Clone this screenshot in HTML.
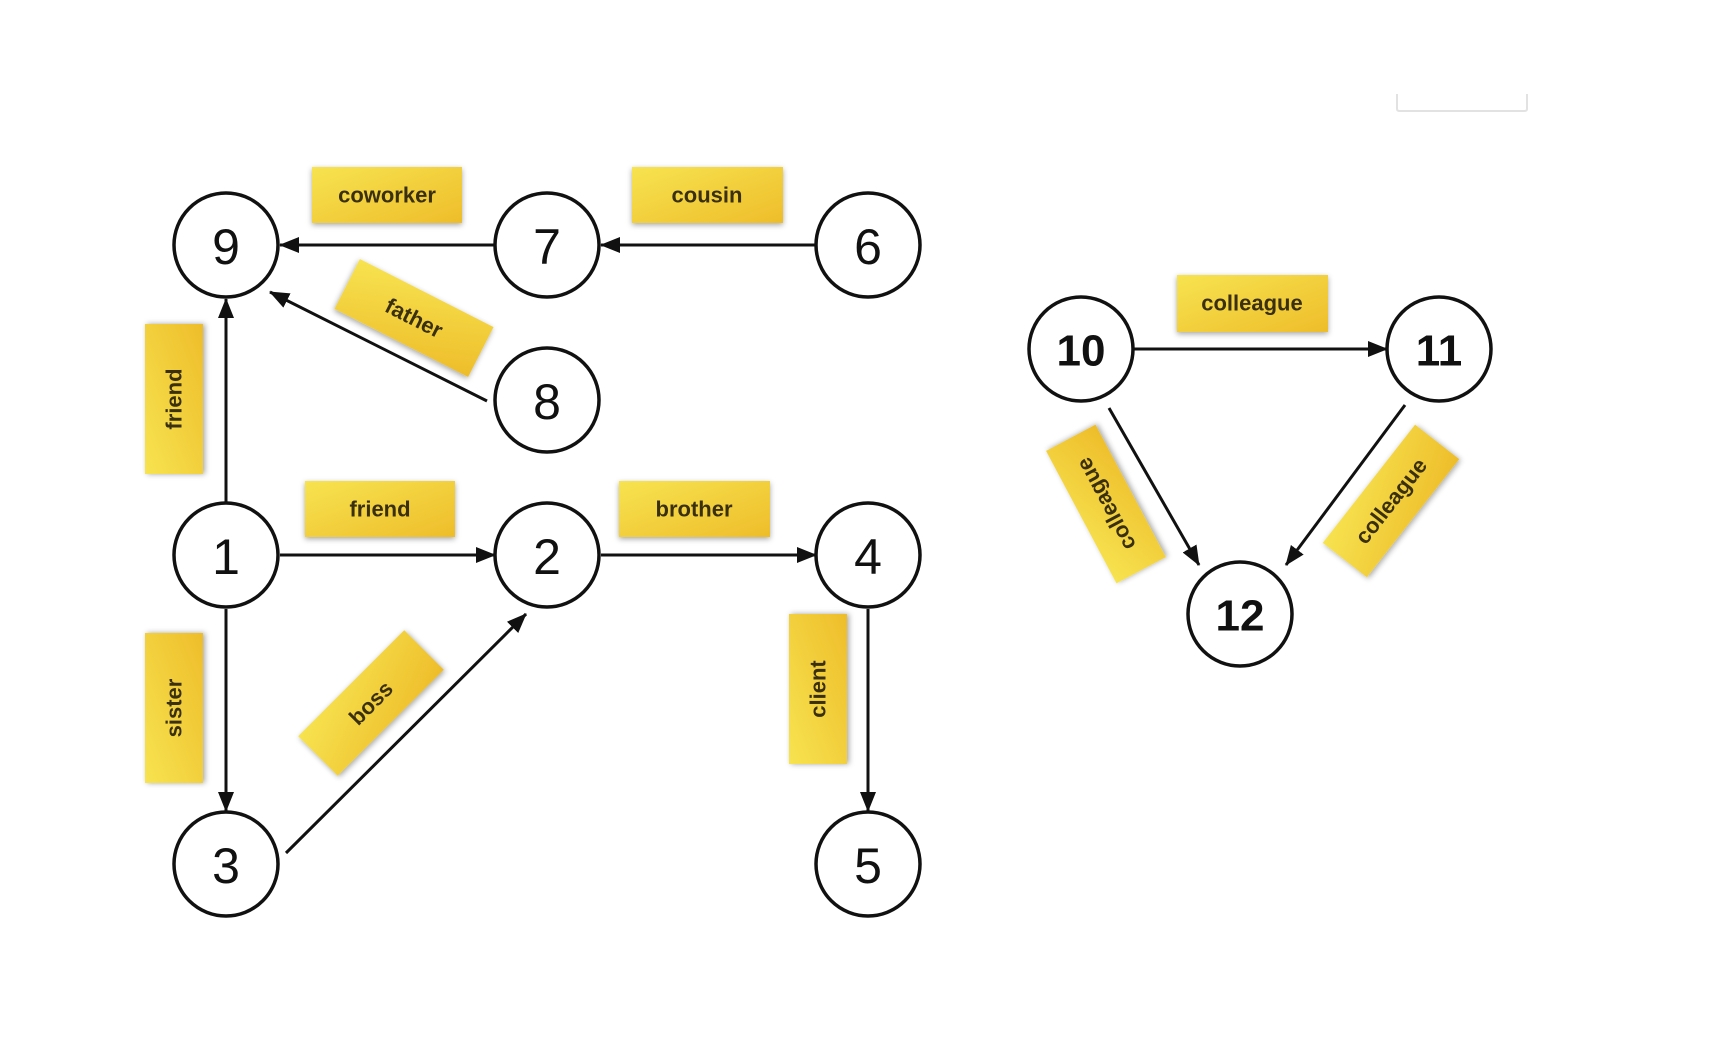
<!DOCTYPE html>
<html><head><meta charset="utf-8"><style>
html,body{margin:0;padding:0;background:#fff;}
svg{display:block;}
.n{fill:#fff;stroke:#111;stroke-width:3.5;}
.d{font-family:"Liberation Sans",sans-serif;font-size:50px;fill:#111;text-anchor:middle;dominant-baseline:central;}
.d2{font-family:"Liberation Sans",sans-serif;font-size:44px;font-weight:bold;fill:#111;text-anchor:middle;dominant-baseline:central;}
.e{stroke:#111;stroke-width:3;fill:none;marker-end:url(#ah);}
.lb{fill:url(#yg);filter:url(#sh);}
.t{font-family:"Liberation Sans",sans-serif;font-size:22px;font-weight:bold;fill:#3a3010;text-anchor:middle;dominant-baseline:central;}
</style></head><body>
<svg width="1710" height="1044" viewBox="0 0 1710 1044" xmlns="http://www.w3.org/2000/svg">
<defs>
<marker id="ah" viewBox="0 0 20 16" refX="19" refY="8" markerWidth="20" markerHeight="16" markerUnits="userSpaceOnUse" orient="auto">
<path d="M0,0 L20,8 L0,16 z" fill="#111"/></marker>
<linearGradient id="yg" x1="0" y1="0" x2="1" y2="1"><stop offset="0" stop-color="#f7e350"/><stop offset="1" stop-color="#eebd2a"/></linearGradient>
<filter id="sh" x="-20%" y="-30%" width="140%" height="160%"><feDropShadow dx="0" dy="2" stdDeviation="3" flood-color="#000" flood-opacity="0.35"/></filter>
</defs>
<path d="M1397,94 L1397,109 Q1397,111 1400,111 L1524,111 Q1527,111 1527,109 L1527,94" stroke="#e2e2e2" stroke-width="2" fill="none"/>
<!-- edges -->
<line class="e" x1="495" y1="245" x2="280" y2="245"/>
<line class="e" x1="816" y1="245" x2="601" y2="245"/>
<line class="e" x1="487" y1="401" x2="270" y2="292"/>
<line class="e" x1="226" y1="503" x2="226" y2="299"/>
<line class="e" x1="280" y1="555" x2="495" y2="555"/>
<line class="e" x1="601" y1="555" x2="816" y2="555"/>
<line class="e" x1="226" y1="609" x2="226" y2="811"/>
<line class="e" x1="868" y1="609" x2="868" y2="811"/>
<line class="e" x1="286" y1="853" x2="526" y2="614"/>
<line class="e" x1="1133" y1="349" x2="1387" y2="349"/>
<line class="e" x1="1109" y1="408" x2="1199" y2="565"/>
<line class="e" x1="1405" y1="405" x2="1286" y2="565"/>
<!-- labels -->
<rect class="lb" x="312" y="167" width="150" height="56"/><text class="t" x="387" y="195">coworker</text>
<rect class="lb" x="632" y="167" width="151" height="56"/><text class="t" x="707" y="195">cousin</text>
<rect class="lb" x="305" y="481" width="150" height="56"/><text class="t" x="380" y="509">friend</text>
<rect class="lb" x="619" y="481" width="151" height="56"/><text class="t" x="694" y="509">brother</text>
<rect class="lb" x="1177" y="275" width="151" height="57"/><text class="t" x="1252" y="303">colleague</text>
<g transform="translate(174,399) rotate(-90)"><rect class="lb" x="-75" y="-29" width="150" height="58"/><text class="t" x="0" y="0">friend</text></g>
<g transform="translate(174,708) rotate(-90)"><rect class="lb" x="-75" y="-29" width="150" height="58"/><text class="t" x="0" y="0">sister</text></g>
<g transform="translate(818,689) rotate(-90)"><rect class="lb" x="-75" y="-29" width="150" height="58"/><text class="t" x="0" y="0">client</text></g>
<g transform="translate(414,318) rotate(27)"><rect class="lb" x="-75" y="-28" width="150" height="56"/><text class="t" x="0" y="0">father</text></g>
<g transform="translate(371,703) rotate(-45)"><rect class="lb" x="-75" y="-28" width="150" height="56"/><text class="t" x="0" y="0">boss</text></g>
<g transform="translate(1106,504) rotate(-118)"><rect class="lb" x="-75" y="-28" width="150" height="56"/><text class="t" x="0" y="0">colleague</text></g>
<g transform="translate(1391,501) rotate(-52)"><rect class="lb" x="-75" y="-28" width="150" height="56"/><text class="t" x="0" y="0">colleague</text></g>
<!-- nodes -->
<circle class="n" cx="226" cy="245" r="52"/><text class="d" x="226" y="247">9</text>
<circle class="n" cx="547" cy="245" r="52"/><text class="d" x="547" y="247">7</text>
<circle class="n" cx="868" cy="245" r="52"/><text class="d" x="868" y="247">6</text>
<circle class="n" cx="547" cy="400" r="52"/><text class="d" x="547" y="402">8</text>
<circle class="n" cx="226" cy="555" r="52"/><text class="d" x="226" y="557">1</text>
<circle class="n" cx="547" cy="555" r="52"/><text class="d" x="547" y="557">2</text>
<circle class="n" cx="868" cy="555" r="52"/><text class="d" x="868" y="557">4</text>
<circle class="n" cx="226" cy="864" r="52"/><text class="d" x="226" y="866">3</text>
<circle class="n" cx="868" cy="864" r="52"/><text class="d" x="868" y="866">5</text>
<circle class="n" cx="1081" cy="349" r="52"/><text class="d2" x="1081" y="351">10</text>
<circle class="n" cx="1439" cy="349" r="52"/><text class="d2" x="1439" y="351">11</text>
<circle class="n" cx="1240" cy="614" r="52"/><text class="d2" x="1240" y="616">12</text>
</svg>
</body></html>
